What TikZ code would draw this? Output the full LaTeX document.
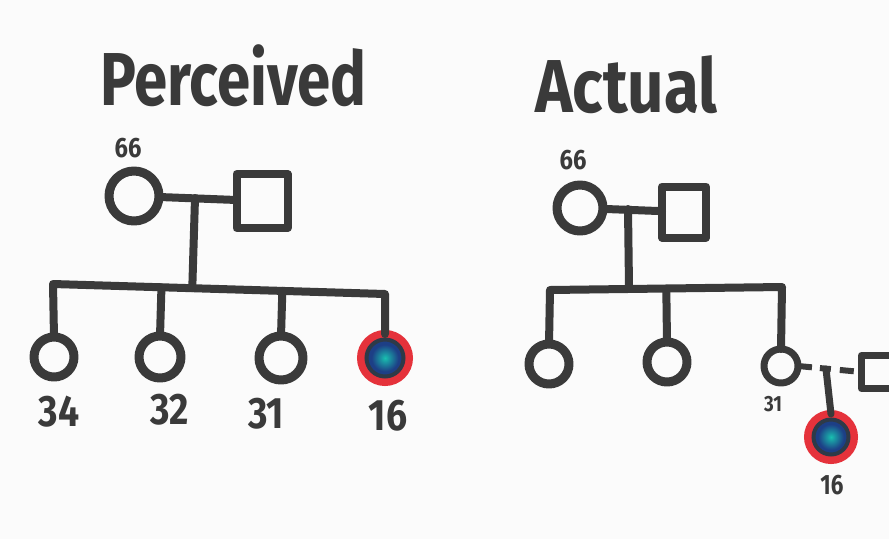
\documentclass[tikz,border=0pt]{standalone}
\usepackage{fontspec}
\usepackage{graphicx}
\setmainfont{Fira Sans}
\usetikzlibrary{calc}
\definecolor{ink}{HTML}{3A3A3A}
\definecolor{bgc}{HTML}{FBFBFB}
\definecolor{affred}{HTML}{E5323B}
\definecolor{affblue}{HTML}{1D3F86}
\definecolor{affteal}{HTML}{19C0B0}
\definecolor{affring}{HTML}{2E3A48}
\pgfdeclareradialshading{affshade}{\pgfpoint{0bp}{0bp}}{color(0bp)=(affteal); color(4bp)=(affteal!70!affblue); color(14bp)=(affblue); color(50bp)=(affblue)}
\tikzset{
  pen/.style={draw=ink, line width=8pt, line cap=round, line join=round},
  female/.style={circle, pen, line width=9pt, minimum size=#1, inner sep=0pt, outer sep=0pt},
  male/.style={rectangle, pen, inner sep=0pt, outer sep=0pt},
  affected/.style={circle, minimum size=#1, inner sep=0pt, outer sep=0pt,
    draw=affred, line width=8pt, shading=affshade},
  innerring/.style={draw=affring, line width=4pt},
  title/.style={text=ink, font=\bfseries\fontsize{75}{80}\selectfont, inner sep=0pt},
  age/.style={text=ink, font=\bfseries\fontsize{44}{48}\selectfont, inner sep=0pt},
  agesmall/.style={text=ink, font=\bfseries\fontsize{#1}{#1}\selectfont, inner sep=0pt},
}
\begin{document}
\begin{tikzpicture}[x=1pt,y=-1pt]
\clip (0,0) rectangle (889,539);
\fill[bgc] (0,0) rectangle (889,539);

% ---------------- Perceived ----------------
\node[title, anchor=base west] (tP) at (100,105) {\scalebox{0.8}[1]{Perceived}};
\node[female=50] (pm) at (134,196) {};
\node[male, minimum width=51, minimum height=54] (pf) at (262,201) {};
\node[agesmall=28] (pma) at (128,148) {\scalebox{0.85}[1]{66}};
\node[female=40] (p1) at (54,357) {};
\node[female=42] (p2) at (160,357) {};
\node[female=44] (p3) at (281,358) {};
\node[affected=48] (p4) at (385,358) {};
\draw[innerring] (p4.center) circle[radius=18.5];
\coordinate (ps1) at (53,284);
\coordinate (ps4) at (385,294);
\coordinate (pmid) at (195,198);
\draw[pen] (pm) -- (pf);
\draw[pen] (pmid) -- ($(ps1)!(pmid)!(ps4)$);
\draw[pen] (p1.north) -- (ps1) -- (ps4) -- (p4.north);
\draw[pen] (p2.north) -- ($(ps1)!(p2.north)!(ps4)$);
\draw[pen] (p3.north) -- ($(ps1)!(p3.north)!(ps4)$);
\node[age] (l1) at (59,412) {\scalebox{0.85}[1]{34}};
\node[age] (l2) at (170,410) {\scalebox{0.85}[1]{32}};
\node[age] (l3) at (266,414) {\scalebox{0.85}[1]{31}};
\node[age] (l4) at (388,416) {\scalebox{0.85}[1]{16}};

% ---------------- Actual ----------------
\node[title, anchor=base west] (tA) at (535,112) {\scalebox{0.85}[1]{Actual}};
\node[female=46] (am) at (580,208) {};
\node[male, minimum width=44, minimum height=51] (af) at (684,212) {};
\node[agesmall=28] (ama) at (573,160) {\scalebox{0.85}[1]{66}};
\node[female=40] (a1) at (549,364) {};
\node[female=40] (a2) at (667,362) {};
\node[female=34, line width=7pt] (a3) at (781,366) {};
\node[male, line width=7pt, minimum width=33, minimum height=33] (sq2) at (878,372) {};
\node[affected=46] (a4) at (831,437) {};
\draw[innerring] (a4.center) circle[radius=17.5];
\coordinate (as1) at (550,290);
\coordinate (as3) at (782,287);
\coordinate (amid) at (628,209);
\coordinate (cmid) at (826,369);
\draw[pen] (am) -- (af);
\draw[pen] (amid) -- ($(as1)!(amid)!(as3)$);
\draw[pen] (a1.north) -- (as1) -- (as3) -- (a3.north);
\draw[pen] (a2.north) -- ($(as1)!(a2.north)!(as3)$);
\draw[draw=ink, line width=6pt, dash pattern=on 14pt off 8pt on 11pt off 9pt on 14pt off 8pt] (a3.east) -- (sq2.west);
\draw[pen, line width=7pt] (cmid) -- (a4.north);
\node[agesmall=22] (la3) at (773,404) {\scalebox{0.85}[1]{31}};
\node[agesmall=28] (la4) at (832,485) {\scalebox{0.8}[1]{16}};
\end{tikzpicture}
\end{document}
